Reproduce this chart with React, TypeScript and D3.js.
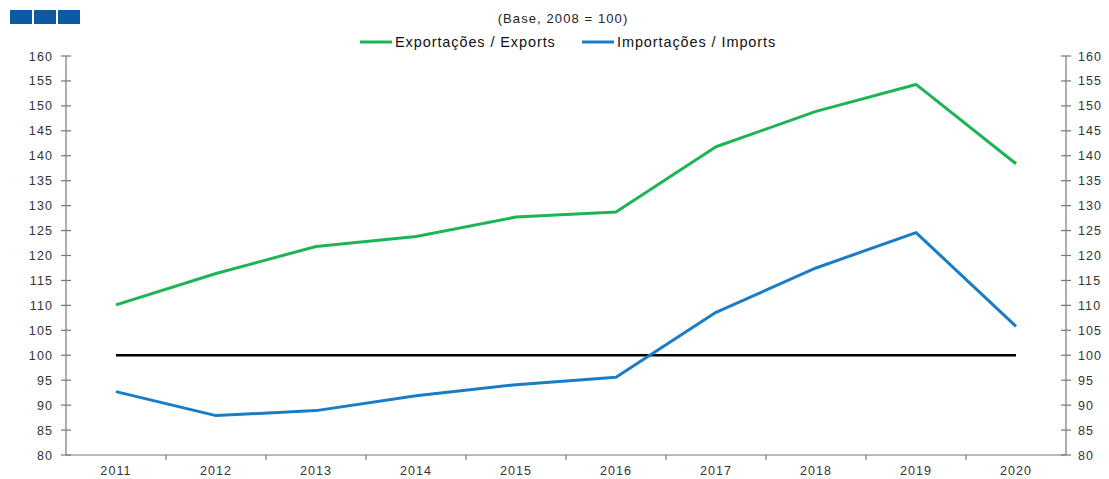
import React, { useEffect, useRef } from 'react'
import * as d3 from 'd3'

const years = ['2011', '2012', '2013', '2014', '2015', '2016', '2017', '2018', '2019', '2020']
const exportsIdx = [110.1, 116.4, 121.8, 123.8, 127.7, 128.7, 141.8, 148.9, 154.3, 138.4]
const importsIdx = [92.7, 87.9, 88.9, 91.9, 94.1, 95.6, 108.6, 117.5, 124.6, 105.8]
const yTicks = [80, 85, 90, 95, 100, 105, 110, 115, 120, 125, 130, 135, 140, 145, 150, 155, 160]
const baseValue = 100

const series = [
  { name: 'Exportações / Exports', values: exportsIdx, color: '#1db455' },
  { name: 'Importações / Imports', values: importsIdx, color: '#1b7cc6' },
]

const font = '"Liberation Sans", Arial, sans-serif'

export default function App() {
  const ref = useRef<SVGSVGElement>(null)

  useEffect(() => {
    const svg = d3.select(ref.current)
    svg.selectAll('*').remove()

    const left = 66
    const right = 1066
    const top = 56
    const bottom = 455

    const x = d3.scaleBand().domain(years).range([left, right])
    const y = d3.scaleLinear().domain([80, 160]).range([bottom, top])
    const cx = (yr: string) => (x(yr) as number) + x.bandwidth() / 2

    // header squares
    svg.append('g').selectAll('rect').data([0, 1, 2]).enter().append('rect')
      .attr('x', d => 10 + d * 24).attr('y', 10).attr('width', 22).attr('height', 14)
      .attr('fill', '#0b5aa2')

    svg.append('text').text('(Base, 2008 = 100)')
      .attr('x', 563).attr('y', 23).attr('text-anchor', 'middle')
      .style('font-family', font).style('font-size', '13px').style('fill', '#222')
      .style('letter-spacing', '1.1px')

    // legend
    const legendX = [360, 582]
    series.forEach((s, i) => {
      const g = svg.append('g').attr('transform', `translate(${legendX[i]}, 42)`)
      g.append('line').attr('x1', 0).attr('x2', 32).attr('y1', 0).attr('y2', 0)
        .attr('stroke', s.color).attr('stroke-width', 3)
      g.append('text').text(s.name).attr('x', 35).attr('y', 5)
        .style('font-family', font).style('font-size', '14.5px').style('fill', '#111')
        .style('letter-spacing', '0.9px')
    })

    const axisColor = '#777'
    const tickFont = (sel: any) => sel
      .style('font-family', font).style('font-size', '12.5px').style('fill', '#333')
      .style('letter-spacing', '1.1px')

    // left axis
    const la = svg.append('g')
    la.append('line').attr('x1', left).attr('x2', left).attr('y1', top).attr('y2', bottom)
      .attr('stroke', axisColor).attr('stroke-width', 1.2)
    la.selectAll('line.t').data(yTicks).enter().append('line')
      .attr('x1', left - 5).attr('x2', left + 5).attr('y1', d => y(d)).attr('y2', d => y(d))
      .attr('stroke', axisColor).attr('stroke-width', 1.2)
    la.selectAll('text').data(yTicks).enter().append('text')
      .text(d => d).attr('x', left - 13).attr('y', d => y(d) + 4.5).attr('text-anchor', 'end')
      .call(tickFont)

    // right axis
    const ra = svg.append('g')
    ra.append('line').attr('x1', right).attr('x2', right).attr('y1', top).attr('y2', bottom)
      .attr('stroke', axisColor).attr('stroke-width', 1.2)
    ra.selectAll('line.t').data(yTicks).enter().append('line')
      .attr('x1', right - 5).attr('x2', right + 5).attr('y1', d => y(d)).attr('y2', d => y(d))
      .attr('stroke', axisColor).attr('stroke-width', 1.2)
    ra.selectAll('text').data(yTicks).enter().append('text')
      .text(d => d).attr('x', right + 12).attr('y', d => y(d) + 4.5).attr('text-anchor', 'start')
      .call(tickFont)

    // x axis
    const xa = svg.append('g')
    xa.append('line').attr('x1', left).attr('x2', right).attr('y1', bottom).attr('y2', bottom)
      .attr('stroke', axisColor).attr('stroke-width', 1.2)
    xa.selectAll('line.t').data(years.slice(1)).enter().append('line')
      .attr('x1', d => x(d) as number).attr('x2', d => x(d) as number)
      .attr('y1', bottom).attr('y2', bottom + 5)
      .attr('stroke', axisColor).attr('stroke-width', 1.2)
    xa.selectAll('text').data(years).enter().append('text')
      .text(d => d).attr('x', d => cx(d)).attr('y', bottom + 20).attr('text-anchor', 'middle')
      .call(tickFont)

    // base line
    svg.append('line')
      .attr('x1', cx(years[0])).attr('x2', cx(years[years.length - 1]))
      .attr('y1', y(baseValue)).attr('y2', y(baseValue))
      .attr('stroke', '#000').attr('stroke-width', 2.5)

    const line = d3.line<number>().x((_, i) => cx(years[i])).y(d => y(d))
    series.forEach(s => {
      svg.append('path').datum(s.values).attr('d', line)
        .attr('fill', 'none').attr('stroke', s.color).attr('stroke-width', 3)
        .attr('stroke-linejoin', 'round')
    })
  }, [])

  return (
    <svg ref={ref} width={1109} height={479}
      style={{ position: 'absolute', left: 0, top: 0, background: '#fff' }} />
  )
}
